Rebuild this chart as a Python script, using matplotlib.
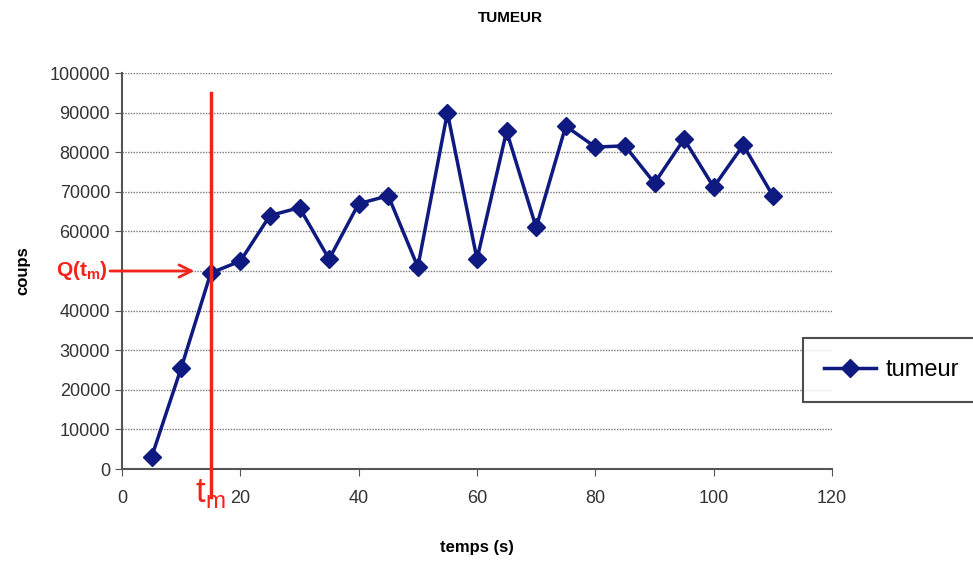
import matplotlib
matplotlib.use("Agg")
import matplotlib.pyplot as plt

plt.rcParams["font.family"] = ["Liberation Sans", "DejaVu Sans"]

# ── Data ──────────────────────────────────────────────────────────────────────

temps = [5, 10, 15, 20, 25, 30, 35, 40, 45, 50, 55,
         60, 65, 70, 75, 80, 85, 90, 95, 100, 105, 110]
coups = [3000, 25500, 49500, 52500, 64000, 66000, 53000, 67000, 69000, 51000, 90000,
         53000, 85300, 61000, 86600, 81300, 81600, 72200, 83300, 71200, 81800, 69000]
y_ticks = list(range(0, 100001, 10000))
# the 50000 label is replaced by Q(t_m) in the original
y_labels = ["" if v == 50000 else str(v) for v in y_ticks]
t_m = 15
q_tm = 50000

NAVY = "#0F1A80"
RED = "#F2231B"

fig = plt.figure(figsize=(9.73, 5.63), dpi=100)
ax = fig.add_axes([122 / 973, 1 - 469 / 563, 710 / 973, 396 / 563])

ax.plot(temps, coups, color=NAVY, linewidth=2.5, marker="D", markersize=9,
        label="tumeur", zorder=3)

ax.set_xlim(0, 120)
ax.set_ylim(0, 100000)
ax.set_xticks(range(0, 121, 20))
ax.set_yticks(y_ticks)
ax.set_yticklabels(y_labels)
ax.yaxis.grid(True, linestyle=(0, (1, 1)), color="#777777", linewidth=1)
ax.set_axisbelow(True)
for s in ("top", "right"):
    ax.spines[s].set_visible(False)
for s in ("left", "bottom"):
    ax.spines[s].set_color("#555555")
    ax.spines[s].set_linewidth(1.5)
ax.tick_params(direction="out", length=5, color="#555555", labelsize=13,
               labelcolor="#333333")
ax.tick_params(axis="x", pad=10)

fig.text(510 / 973, 1 - 18 / 563, "TUMEUR", fontsize=11, fontweight="bold",
         ha="center", va="center")
ax.set_xlabel("temps (s)", fontsize=12, fontweight="bold", labelpad=24)
ax.set_ylabel("coups", fontsize=12, fontweight="bold", labelpad=14)

# ── Annotations t_m / Q(t_m) ──────────────────────────────────────────────────
ax.plot([t_m, t_m], [95000, -7000], color=RED, linewidth=2.5, clip_on=False, zorder=4)
ax.annotate("", xy=(t_m - 2.3, q_tm), xytext=(-2.5, q_tm),
            arrowprops=dict(arrowstyle="->", color=RED, lw=2, mutation_scale=22),
            annotation_clip=False)
ax.text(-2.3, q_tm, r"Q(t$_{\mathregular{m}}$)", color=RED, fontsize=15,
        fontweight="bold", ha="right", va="center", clip_on=False)
ax.text(t_m, -2000, r"t$_{\mathregular{m}}$", color=RED, fontsize=25,
        ha="center", va="top", clip_on=False)

leg = ax.legend(loc="center left", bbox_to_anchor=(803 / 973, 1 - 370 / 563),
                bbox_transform=fig.transFigure, borderaxespad=0, fontsize=17,
                frameon=True, fancybox=False, borderpad=0.9, handlelength=2.2,
                handletextpad=0.4)
leg.get_frame().set_edgecolor("#222222")
leg.get_frame().set_linewidth(1.5)

plt.savefig("out.png", dpi=100)
